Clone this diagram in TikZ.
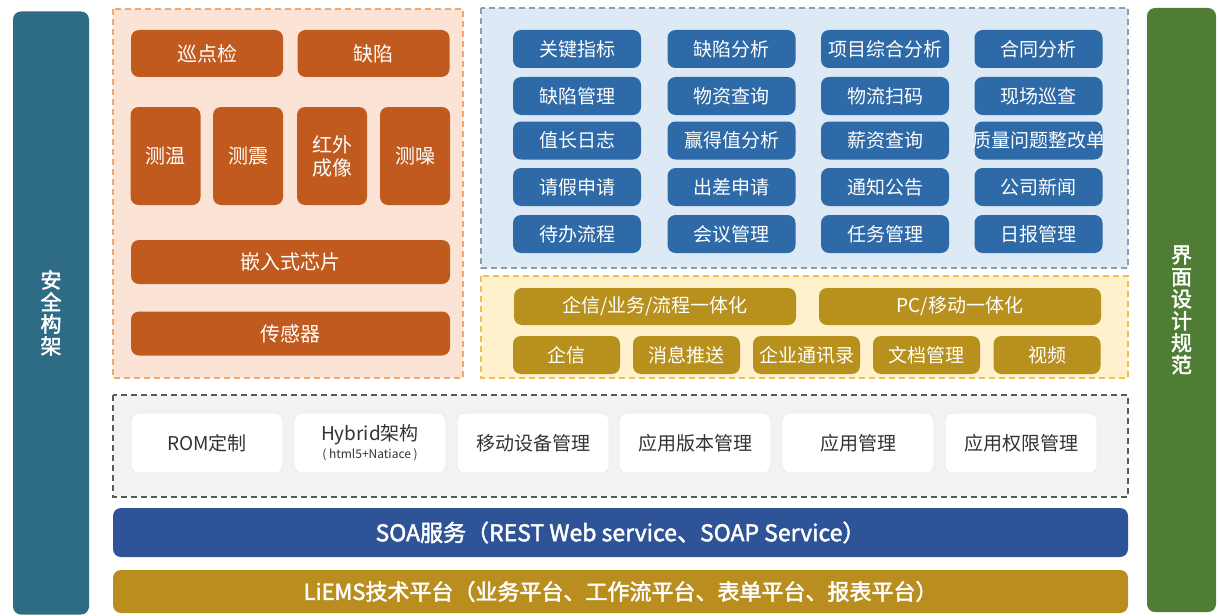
\documentclass[tikz,border=0pt]{standalone}
\usepackage{fontspec}
\setmainfont{Noto Sans CJK SC}[AutoFakeBold=2]
\usepackage{tikz}
\usepackage{xcolor}

\definecolor{barteal}{HTML}{2E6B84}
\definecolor{bargreen}{HTML}{4E7D33}
\definecolor{chiporange}{HTML}{C05A1F}
\definecolor{peach}{HTML}{FBE4D5}
\definecolor{peachline}{HTML}{F0A870}
\definecolor{appblue}{HTML}{2E6AA7}
\definecolor{skyfill}{HTML}{DDEAF6}
\definecolor{skyline}{HTML}{8C9DB5}
\definecolor{goldtile}{HTML}{B8901E}
\definecolor{cream}{HTML}{FFF1CC}
\definecolor{creamline}{HTML}{EFC050}
\definecolor{greyfill}{HTML}{F2F2F2}
\definecolor{greyline}{HTML}{5A5A5A}
\definecolor{greytext}{HTML}{333333}
\definecolor{soablue}{HTML}{2E5497}
\definecolor{liemsgold}{HTML}{BA8E1E}

\begin{document}
\begin{tikzpicture}[x=0.5pt,y=-0.5pt,
  tile/.style={rounded corners=4pt,inner sep=0pt,align=center,text=white,
    font=\fontsize{9.5}{11}\selectfont},
  orangetile/.style={tile,fill=chiporange,minimum width=76pt,minimum height=23.5pt},
  talltile/.style={tile,fill=chiporange,minimum width=35pt,minimum height=49pt,
    font=\fontsize{10}{11.5}\selectfont},
  widetile/.style={tile,fill=chiporange,minimum width=159.5pt,minimum height=22pt},
  bluetile/.style={tile,fill=appblue,minimum width=64pt,minimum height=19pt},
  goldwide/.style={tile,fill=goldtile,minimum width=141pt,minimum height=18.5pt},
  goldsmall/.style={tile,fill=goldtile,minimum width=53.5pt,minimum height=19pt},
  whitetile/.style={tile,fill=white,draw=black!8,minimum width=76pt,minimum height=30pt,
    text=greytext},
  zone/.style={line width=0.75pt,dash pattern=on 3pt off 2pt},
  band/.style={rounded corners=4pt,inner sep=0pt,text=white,
    font=\bfseries\fontsize{11}{13}\selectfont,minimum width=507.5pt},
  sidebar/.style={rounded corners=4pt,inner sep=0pt,text=white,align=center,
    font=\bfseries\fontsize{10.5}{11}\selectfont}]

\useasboundingbox (0,0) rectangle (1218,615);

\def\ca{577}
\def\cb{731.5}
\def\cc{885}
\def\cd{1038.5}

% side bars
\node[sidebar,fill=barteal,minimum width=38pt,minimum height=301.5pt] (safety) at (51,313) {安\\全\\构\\架};
\node[sidebar,fill=bargreen,minimum width=34.5pt,minimum height=302pt] (uispec) at (1181.5,310) {界\\面\\设\\计\\规\\范};

% zones
\draw[zone,fill=peach,draw=peachline] (113,9) rectangle (463,378);
\draw[zone,fill=skyfill,draw=skyline] (481,8) rectangle (1128,268);
\draw[zone,fill=cream,draw=creamline] (481,276) rectangle (1128,378);
\draw[zone,fill=greyfill,draw=greyline] (113,395) rectangle (1128,497);

% devices
\node[orangetile,font=\fontsize{10}{12}\selectfont] (patrol) at (207,53.5) {巡点检};
\node[orangetile,font=\fontsize{10}{12}\selectfont] (defect) at (373.5,53.5) {缺陷};
\node[talltile] (temp) at (165.5,156) {测温};
\node[talltile] (vib) at (248,156) {测震};
\node[talltile] (infrared) at (332,156) {红外\\成像};
\node[talltile] (noise) at (415,156) {测噪};
\node[widetile,font=\fontsize{10}{12}\selectfont] (chip) at (290.5,262) {嵌入式芯片};
\node[widetile,font=\fontsize{10}{12}\selectfont] (sensor) at (290.5,333.5) {传感器};

% business apps
\node[bluetile] (b11) at (\ca,49) {关键指标};
\node[bluetile] (b12) at (\cb,49) {缺陷分析};
\node[bluetile] (b13) at (\cc,49) {项目综合分析};
\node[bluetile] (b14) at (\cd,49) {合同分析};
\node[bluetile] (b21) at (\ca,96) {缺陷管理};
\node[bluetile] (b22) at (\cb,96) {物资查询};
\node[bluetile] (b23) at (\cc,96) {物流扫码};
\node[bluetile] (b24) at (\cd,96) {现场巡查};
\node[bluetile] (b31) at (\ca,140.5) {值长日志};
\node[bluetile] (b32) at (\cb,140.5) {赢得值分析};
\node[bluetile] (b33) at (\cc,140.5) {薪资查询};
\node[bluetile] (b34) at (\cd,140.5) {\makebox[0pt]{质量问题整改单}};
\node[bluetile] (b41) at (\ca,187) {请假申请};
\node[bluetile] (b42) at (\cb,187) {出差申请};
\node[bluetile] (b43) at (\cc,187) {通知公告};
\node[bluetile] (b44) at (\cd,187) {公司新闻};
\node[bluetile] (b51) at (\ca,234) {待办流程};
\node[bluetile] (b52) at (\cb,234) {会议管理};
\node[bluetile] (b53) at (\cc,234) {任务管理};
\node[bluetile] (b54) at (\cd,234) {日报管理};

% integration
\node[goldwide] (unify) at (655,306.5) {企信/业务/流程一体化};
\node[goldwide] (pcmobile) at (960,306.5) {PC/移动一体化};
\node[goldsmall] (qixin) at (566.5,355) {企信};
\node[goldsmall] (push) at (686.5,355) {消息推送};
\node[goldsmall] (contacts) at (806.5,355) {企业通讯录};
\node[goldsmall] (docs) at (926.5,355) {文档管理};
\node[goldsmall] (video) at (1047,355) {视频};

% mobile platform
\node[whitetile] (rom) at (207,443) {ROM定制};
\node[whitetile] (hybrid) at (370,443) {Hybrid架构\\[-2pt]{\fontsize{6}{7}\selectfont ( html5+Natiace )}};
\node[whitetile] (mdm) at (533,443) {移动设备管理};
\node[whitetile] (version) at (695,443) {应用版本管理};
\node[whitetile] (appmgr) at (858,443) {应用管理};
\node[whitetile] (perm) at (1021,443) {应用权限管理};

% base layers
\node[band,fill=soablue,minimum height=24.5pt,font=\bfseries\fontsize{11.5}{13}\selectfont] (soa) at (620.5,532.5) {SOA服务（REST Web service、SOAP Service）};
\node[band,fill=liemsgold,minimum height=21.5pt] (liems) at (620.5,591.5) {LiEMS技术平台（业务平台、工作流平台、表单平台、报表平台）};

\end{tikzpicture}
\end{document}
